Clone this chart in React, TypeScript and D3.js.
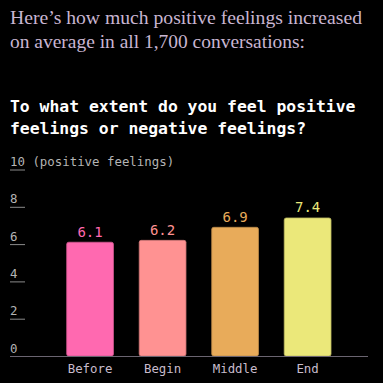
import React from "react";
import * as d3 from "d3";

const categories = ["Before", "Begin", "Middle", "End"];
const values = [6.1, 6.2, 6.9, 7.4];
const colors = ["#ff69b0", "#ff9292", "#e8ab5a", "#ebe87a"];
const yTicks = [0, 2, 4, 6, 8, 10];
const headingLines = [
  "Here\u2019s how much positive feelings increased",
  "on average in all 1,700 conversations:",
];
const headingWidths = [352, 295];
const titleLines = [
  "To what extent do you feel positive",
  "feelings or negative feelings?",
];

const W = 383;
const H = 383;
const mono = "'DejaVu Sans Mono', monospace";

export default function App() {
  const x = d3.scaleBand<string>().domain(categories).range([66.7, 331]).paddingInner(0.355).paddingOuter(0);
  const y = d3.scaleLinear().domain([0, 10]).range([356, 169.5]);
  return (
    <svg
      width={W}
      height={H}
      style={{ position: "absolute", left: 0, top: 0, background: "#000" }}
    >
      <rect x={0} y={0} width={W} height={H} fill="#000" />
      {headingLines.map((t, i) => (
        <text
          key={t}
          x={10}
          y={24 + i * 24}
          fill="#c9b6d2"
          fontFamily="'Liberation Serif', serif"
          fontSize={18.8}
          textLength={headingWidths[i]}
          lengthAdjust="spacingAndGlyphs"
        >
          {t}
        </text>
      ))}
      {titleLines.map((t, i) => (
        <text
          key={t}
          x={10}
          y={112 + i * 22}
          fill="#ffffff"
          fontFamily={mono}
          fontWeight="bold"
          fontSize={16.4}
        >
          {t}
        </text>
      ))}
      {yTicks.map((t) => (
        <g key={t}>
          <text x={10} y={y(t) - 3.5} fill="#b4b4b4" fontFamily={mono} fontSize={12.4}>
            {t === 10 ? "10 (positive feelings)" : String(t)}
          </text>
          {t !== 0 && (
            <line x1={10} x2={25} y1={y(t) + 0.5} y2={y(t) + 0.5} stroke="#8a8a8a" strokeWidth={1} />
          )}
        </g>
      ))}
      {categories.map((c, i) => (
        <g key={c}>
          <rect
            x={x(c)}
            y={y(values[i])}
            width={x.bandwidth()}
            height={y(0) - y(values[i])}
            fill={colors[i]}
            stroke={d3.color(colors[i])!.darker(0.6).toString()}
            strokeWidth={0.8}
            rx={2}
          />
          <text
            x={(x(c) as number) + x.bandwidth() / 2}
            y={y(values[i]) - 5.5}
            fill={colors[i]}
            textAnchor="middle"
            fontFamily={mono}
            fontSize={14}
          >
            {values[i].toFixed(1)}
          </text>
          <text
            x={(x(c) as number) + x.bandwidth() / 2}
            y={373}
            fill="#c8bccc"
            textAnchor="middle"
            fontFamily={mono}
            fontSize={12.4}
          >
            {c}
          </text>
        </g>
      ))}
      <line x1={10} x2={368} y1={356.5} y2={356.5} stroke="#6a6470" strokeWidth={1} />
    </svg>
  );
}
